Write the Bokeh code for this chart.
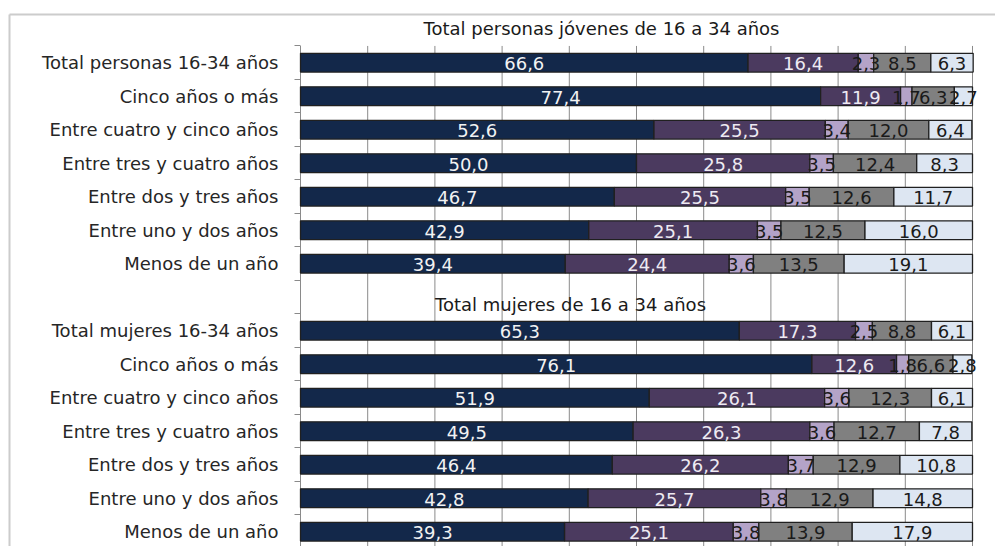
from bokeh.plotting import figure
from bokeh.models import Range1d, FixedTicker, ColumnDataSource
from bokeh.core.properties import value
from bokeh.embed import file_html
from bokeh.resources import INLINE

# ---------------- data ----------------
cat_personas = ["Total personas 16-34 años", "Cinco años o más", "Entre cuatro y cinco años",
                "Entre tres y cuatro años", "Entre dos y tres años", "Entre uno y dos años",
                "Menos de un año"]
cat_mujeres = ["Total mujeres 16-34 años", "Cinco años o más", "Entre cuatro y cinco años",
               "Entre tres y cuatro años", "Entre dos y tres años", "Entre uno y dos años",
               "Menos de un año"]

personas_s1 = [66.6, 77.4, 52.6, 50.0, 46.7, 42.9, 39.4]
personas_s2 = [16.4, 11.9, 25.5, 25.8, 25.5, 25.1, 24.4]
personas_s3 = [2.3, 1.7, 3.4, 3.5, 3.5, 3.5, 3.6]
personas_s4 = [8.5, 6.3, 12.0, 12.4, 12.6, 12.5, 13.5]
personas_s5 = [6.3, 2.7, 6.4, 8.3, 11.7, 16.0, 19.1]

mujeres_s1 = [65.3, 76.1, 51.9, 49.5, 46.4, 42.8, 39.3]
mujeres_s2 = [17.3, 12.6, 26.1, 26.3, 26.2, 25.7, 25.1]
mujeres_s3 = [2.5, 1.8, 3.6, 3.6, 3.7, 3.8, 3.8]
mujeres_s4 = [8.8, 6.6, 12.3, 12.7, 12.9, 12.9, 13.9]
mujeres_s5 = [6.1, 2.8, 6.1, 7.8, 10.8, 14.8, 17.9]

title_personas = "Total personas jóvenes de 16 a 34 años"
title_mujeres = "Total mujeres de 16 a 34 años"
x_ticks = [0, 10, 20, 30, 40, 50, 60, 70, 80, 90, 100]

# ---------------- layout / styles ----------------
W, H = 995, 546
X0_PX, X100_PX = 300.0, 972.0          # pixel of 0 % and 100 %
ROW0_PX, ROW_PITCH = 62.2, 33.5        # pixel centre of first row, row pitch
SX = (X100_PX - X0_PX) / 100.0


def xd(px):
    return (px - X0_PX) / SX


def yd(py):
    return (py - ROW0_PX) / ROW_PITCH


seg_colors = ["#13284a", "#4b3a5f", "#b4a3c8", "#808080", "#dde6f2"]
lab_colors = ["#f2f2f2", "#eeeaf2", "#1a1a1a", "#1a1a1a", "#1a1a1a"]
GRID = "#8a8a8a"
FONT = "DejaVu Sans"
FS = "18px"

rows = list(range(0, 7)) + list(range(8, 15))
cats = cat_personas + cat_mujeres
series = [personas_s1 + mujeres_s1, personas_s2 + mujeres_s2, personas_s3 + mujeres_s3,
          personas_s4 + mujeres_s4, personas_s5 + mujeres_s5]

p = figure(width=W, height=H, output_backend="svg", toolbar_location=None,
           x_range=Range1d(xd(0), xd(W)), y_range=Range1d(start=yd(H), end=yd(0)),
           min_border_left=0, min_border_right=0, min_border_top=0, min_border_bottom=0)
p.outline_line_color = None
p.background_fill_color = "white"
p.border_fill_color = "white"
p.xaxis.visible = False
p.xgrid.visible = False
p.ygrid.visible = False

# category axis fixed at 0 %
yax = p.yaxis[0]
yax.fixed_location = 0
yax.ticker = FixedTicker(ticks=rows, minor_ticks=[i - 0.5 for i in range(16)])
yax.major_label_overrides = {r: c for r, c in zip(rows, cats)}
yax.major_tick_out = 0
yax.major_tick_in = 0
yax.minor_tick_out = 6
yax.minor_tick_in = 0
yax.minor_tick_line_color = GRID
yax.axis_line_color = None
yax.major_label_standoff = 16
yax.major_label_text_font = FONT
yax.major_label_text_font_size = FS
yax.major_label_text_color = "#262626"

# vertical gridlines (incl. 0 % axis line), starting at the top of the plot area
top_edge = -0.5
p.segment(x0=x_ticks, y0=[top_edge] * len(x_ticks), x1=x_ticks, y1=[yd(H) + 1] * len(x_ticks),
          line_color=GRID, line_width=1)

# chart-area border (top and left)
p.segment(x0=[xd(9), xd(9)], y0=[yd(14), yd(14)], x1=[xd(W + 5), xd(9)], y1=[yd(14), yd(H + 5)],
          line_color="#cccccc", line_width=2)

left = [0.0] * len(rows)
label_sources = []
for k, vals in enumerate(series):
    right = [l + v for l, v in zip(left, vals)]
    mid = [(l + r) / 2 for l, r in zip(left, right)]
    src = ColumnDataSource(dict(y=rows, left=left, right=right, mid=mid,
                                lab=[f"{v:.1f}".replace(".", ",") for v in vals]))
    p.hbar(y="y", left="left", right="right", height=0.56, source=src,
           fill_color=seg_colors[k], line_color="#202020", line_width=1.3)
    label_sources.append(src)
    left = right

for k, src in enumerate(label_sources):
    p.text(x="mid", y="y", text="lab", source=src, text_align="center",
           text_baseline="middle", text_font=value(FONT), text_font_size=FS,
           text_color=lab_colors[k], y_offset=1)

# group titles
p.text(x=[xd(601), xd(570)], y=[yd(28), yd(304)], text=[title_personas, title_mujeres],
       text_align="center", text_baseline="middle", text_font=value(FONT),
       text_font_size=FS, text_color="#1a1a1a")

open("out.html", "w").write(file_html(p, INLINE))
